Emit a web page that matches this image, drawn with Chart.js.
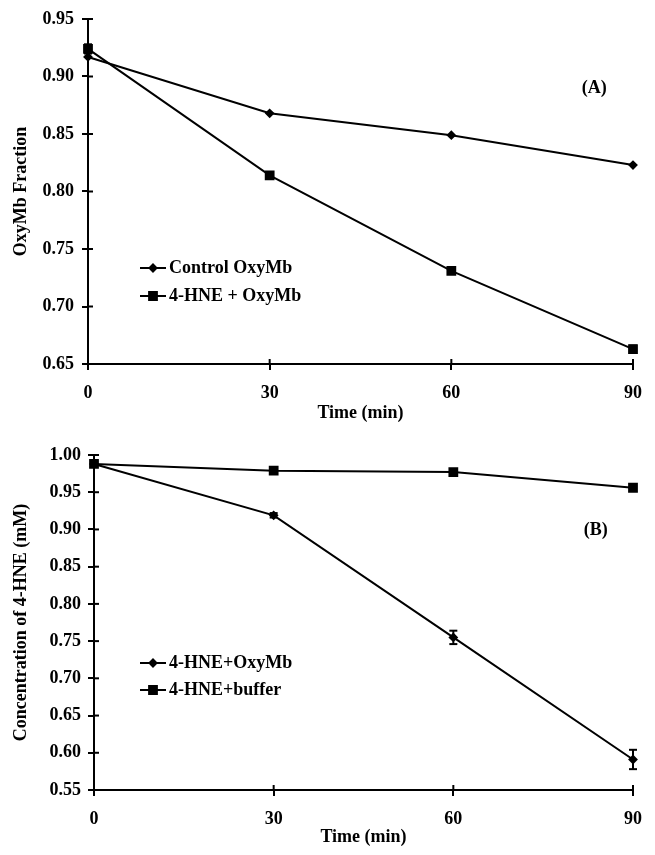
<!DOCTYPE html>
<html>
<head>
<meta charset="utf-8">
<script src="https://cdn.jsdelivr.net/npm/chart.js@4.4.1/dist/chart.umd.min.js"></script>
<style>
    body { margin: 0; background: #fff; width: 655px; height: 855px; overflow: hidden; }
    canvas { position: absolute; left: 0; }
    #graficoA { top: 0; }
    #graficoB { top: 430px; }
</style>
</head>
<body>
<canvas id="graficoA" width="655" height="430"></canvas>
<canvas id="graficoB" width="655" height="425"></canvas>
<script>

// dados
var tempos = [0, 30, 60, 90]

// (A) fracao de OxyMb
var ticksA = [0.65, 0.70, 0.75, 0.80, 0.85, 0.90, 0.95]
var controleOxyMb = [0.917, 0.868, 0.849, 0.823]
var hneOxyMb = [0.924, 0.814, 0.731, 0.663]
var hneOxyMbErro = [0.004, 0.002, 0.002, 0.003]

// (B) concentracao de 4-HNE (mM)
var ticksB = [0.55, 0.60, 0.65, 0.70, 0.75, 0.80, 0.85, 0.90, 0.95, 1.00]
var hneComOxyMb = [0.988, 0.919, 0.755, 0.591]
var hneComOxyMbErro = [0.002, 0.003, 0.009, 0.013]
var hneTampao = [0.988, 0.979, 0.977, 0.956]
var hneTampaoErro = [0.003, 0.002, 0.002, 0.002]

var fonte = { family: 'Liberation Serif', weight: 'bold', size: 18 }


function linha(ctx, x1, y1, x2, y2) {
    ctx.beginPath()
    ctx.moveTo(x1, y1)
    ctx.lineTo(x2, y2)
    ctx.stroke()
}

// marcas do eixo para dentro, barras de erro, legenda e rotulo (A)/(B)
var extras = {
    id: 'extras',
    afterDraw(chart, args, opts) {
        var ctx = chart.ctx
        var xs = chart.scales.x
        var ys = chart.scales.y
        ctx.save()
        ctx.strokeStyle = '#000'
        ctx.fillStyle = '#000'
        ctx.lineWidth = 2

        ys.ticks.forEach(t => {
            var py = ys.getPixelForValue(t.value)
            linha(ctx, xs.left, py, xs.left + 5, py)
        })
        xs.ticks.forEach(t => {
            var px = xs.getPixelForValue(t.value)
            linha(ctx, px, ys.bottom, px, ys.bottom - 5)
        })

        chart.data.datasets.forEach(ds => {
            if (!ds.erros) return
            ds.data.forEach((p, i) => {
                var e = ds.erros[i]
                if (!e) return
                var px = xs.getPixelForValue(p.x)
                var y1 = ys.getPixelForValue(p.y + e)
                var y2 = ys.getPixelForValue(p.y - e)
                linha(ctx, px, y1, px, y2)
                linha(ctx, px - 4, y1, px + 4, y1)
                linha(ctx, px - 4, y2, px + 4, y2)
            })
        })

        // legenda
        ctx.font = 'bold 18px "Liberation Serif"'
        ctx.textBaseline = 'middle'
        ctx.textAlign = 'left'
        chart.data.datasets.forEach((ds, i) => {
            var ly = opts.legY + i * opts.legPasso
            linha(ctx, opts.legX, ly, opts.legX + 26, ly)
            Chart.helpers.drawPoint(ctx, {
                pointStyle: ds.pointStyle, radius: ds.pointRadius, borderWidth: 1, rotation: 0
            }, opts.legX + 13, ly)
            ctx.fill()
            ctx.fillText(ds.label, opts.legX + 29, ly)
        })

        ctx.textAlign = 'center'
        ctx.fillText(opts.rotulo, xs.getPixelForValue(opts.rotuloX), ys.getPixelForValue(opts.rotuloY))
        ctx.restore()
    }
}


function criarGrafico(id, cfg) {
    var ctx = document.getElementById(id).getContext('2d')
    return new Chart(ctx, {
        type: 'line',
        data: {
            datasets: cfg.series.map(s => ({
                label: s.nome,
                data: tempos.map((t, i) => ({ x: t, y: s.valores[i] })),
                erros: s.erros,
                borderColor: '#000',
                backgroundColor: '#000',
                borderWidth: 2,
                pointStyle: s.marca,
                pointRadius: s.raio,
                pointHoverRadius: s.raio,
                tension: 0,
                clip: false
            }))
        },
        options: {
            responsive: false,
            animation: false,
            events: [],
            layout: { padding: { top: cfg.topo, right: cfg.direita, left: 0, bottom: 0 } },
            plugins: {
                legend: { display: false },
                tooltip: { enabled: false },
                extras: cfg.extras
            },
            scales: {
                x: {
                    type: 'linear',
                    min: 0,
                    max: 90,
                    afterBuildTicks: s => { s.ticks = tempos.map(v => ({ value: v })) },
                    border: { color: '#000', width: 2 },
                    grid: { drawOnChartArea: false, color: '#000', lineWidth: 2, tickLength: 6 },
                    ticks: { color: '#000', font: fonte, padding: 13, maxRotation: 0 },
                    title: { display: true, text: 'Time (min)', color: '#000', font: fonte, padding: { top: 0, bottom: cfg.tituloX } },
                    afterFit: s => { s.height = cfg.alturaX }
                },
                y: {
                    type: 'linear',
                    min: cfg.ticks[0],
                    max: cfg.ticks[cfg.ticks.length - 1],
                    afterBuildTicks: s => { s.ticks = cfg.ticks.map(v => ({ value: v })) },
                    border: { color: '#000', width: 2 },
                    grid: { drawOnChartArea: false, color: '#000', lineWidth: 2, tickLength: 6 },
                    ticks: { color: '#000', font: fonte, padding: cfg.padY, callback: v => v.toFixed(2) },
                    title: { display: true, text: cfg.tituloY, color: '#000', font: fonte, padding: { top: 11, bottom: 0 } },
                    afterFit: s => { s.width = cfg.larguraY }
                }
            }
        },
        plugins: [extras]
    })
}


criarGrafico('graficoA', {
    ticks: ticksA,
    tituloY: 'OxyMb Fraction',
    topo: 19, direita: 18, alturaX: 66, larguraY: 88, padY: 8, tituloX: 6,
    series: [
        { nome: 'Control OxyMb', valores: controleOxyMb, marca: 'rectRot', raio: 3.5 },
        { nome: '4-HNE + OxyMb', valores: hneOxyMb, erros: hneOxyMbErro, marca: 'rect', raio: 5.5 }
    ],
    extras: { legX: 140, legY: 268, legPasso: 28, rotulo: '(A)', rotuloX: 83.6, rotuloY: 0.89 }
})

criarGrafico('graficoB', {
    ticks: ticksB,
    tituloY: 'Concentration of 4-HNE (mM)',
    topo: 25, direita: 21, alturaX: 65, larguraY: 94, padY: 7, tituloX: 7,
    series: [
        { nome: '4-HNE+OxyMb', valores: hneComOxyMb, erros: hneComOxyMbErro, marca: 'rectRot', raio: 3.5 },
        { nome: '4-HNE+buffer', valores: hneTampao, erros: hneTampaoErro, marca: 'rect', raio: 5.5 }
    ],
    extras: { legX: 140, legY: 233, legPasso: 27, rotulo: '(B)', rotuloX: 83.8, rotuloY: 0.899 }
})

</script>
</body>
</html>
